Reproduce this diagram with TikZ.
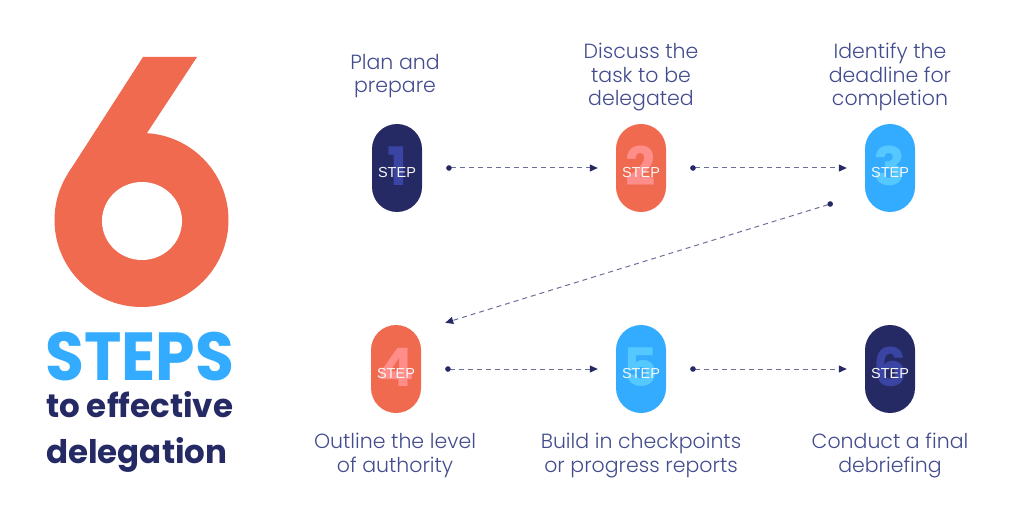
\documentclass[tikz,border=0pt]{standalone}
\usepackage{fontspec}
\setmainfont{Poppins}
\newfontfamily\lightfont{Poppins Light}
\newfontfamily\stepfont{Liberation Sans}
\usetikzlibrary{arrows.meta,calc}

\definecolor{navy}{HTML}{262A64}
\definecolor{navylt}{HTML}{3A44A2}
\definecolor{coral}{HTML}{F06A50}
\definecolor{corallt}{HTML}{FF8D8A}
\definecolor{sky}{HTML}{33ABFE}
\definecolor{skylt}{HTML}{55C8FF}
\definecolor{labelblue}{HTML}{434C8E}
\definecolor{dashgray}{HTML}{6D6F9B}

\tikzset{
  pill/.style={rectangle, rounded corners=25pt, minimum width=50pt,
    minimum height=88pt, inner sep=0pt, draw=none},
  % big step number behind the word STEP, both clipped to the pill
  pillcontent/.style 2 args={path picture={
      \node[text=#2, font=\bfseries\fontsize{53}{53}\selectfont, inner sep=0pt]
        at ([yshift=2pt]path picture bounding box.center) {#1};
      \node[text=white!94!gray, font=\stepfont\fontsize{14.5}{14.5}\selectfont, inner sep=0pt]
        at ([yshift=-4.5pt]path picture bounding box.center) {STEP};
    }},
  % anchor=base sits on the last line of these two- and three-line texts
  steplabel/.style={anchor=base, align=center, text=labelblue, inner sep=0pt,
    font=\lightfont\fontsize{20.5}{23.5}\selectfont},
  flow/.style={draw=dashgray, line width=1pt, dash pattern=on 5pt off 4pt,
    {Circle[length=5.5pt, color=navy]}-{Triangle[length=8pt, width=7pt, color=navy]}},
  title/.style={anchor=base west, inner sep=0pt},
}

\begin{document}
\begin{tikzpicture}[x=1pt, y=-1pt]
  \useasboundingbox (0,0) rectangle (1024,529);

  % the large numeral 6
  \fill[coral] (141.5,220) circle [radius=87pt];
  \fill[coral] (143,57) -- (197,57) -- (145,136) -- (141.5,220) -- (68.4,172.9) -- cycle;
  \fill[white] (142,221) ellipse [x radius=40pt, y radius=39pt];

  % title
  \node[title, text=sky, xscale=0.93, transform shape,
        font=\bfseries\fontsize{68}{68}\selectfont] (t1) at (45,380) {STEPS};
  \node[title, text=navy,
        font=\bfseries\fontsize{32.5}{32.5}\selectfont] (t2) at (46,417) {to effective};
  \node[title, text=navy,
        font=\bfseries\fontsize{32.5}{32.5}\selectfont] (t3) at (46,463) {delegation};

  % step pills
  \node[pill, fill=navy,  pillcontent={1}{navylt}]  (s1) at (397,168) {};
  \node[pill, fill=coral, pillcontent={2}{corallt}] (s2) at (641,168) {};
  \node[pill, fill=sky,   pillcontent={3}{skylt}]   (s3) at (890,168) {};
  \node[pill, fill=coral, pillcontent={4}{corallt}] (s4) at (396,369) {};
  \node[pill, fill=sky,   pillcontent={5}{skylt}]   (s5) at (641,369) {};
  \node[pill, fill=navy,  pillcontent={6}{navylt}]  (s6) at (890,369) {};

  % step descriptions
  \node[steplabel] (l1) at (395,93) {Plan and\\prepare};
  \node[steplabel] (l2) at (641,106) {Discuss the\\task to be\\delegated};
  \node[steplabel] (l3) at (890,106) {Identify the\\deadline for\\completion};
  \node[steplabel] (l4) at (395,472) {Outline the level\\of authority};
  \node[steplabel] (l5) at (641,472) {Build in checkpoints\\or progress reports};
  \node[steplabel] (l6) at (890,472) {Conduct a final\\debriefing};

  % connectors
  \draw[flow, shorten <=24pt, shorten >=18pt] (s1.east) -- (s2.west);
  \draw[flow, shorten <=24pt, shorten >=18pt] (s2.east) -- (s3.west);
  \coordinate (d3) at ($(s3.south west)+(-32,-9)$);
  \coordinate (d4) at ($(s4.north east)+(24,-2)$);
  \draw[flow] (d3) -- (d4);
  \draw[flow, shorten <=24pt, shorten >=18pt] (s4.east) -- (s5.west);
  \draw[flow, shorten <=24pt, shorten >=18pt] (s5.east) -- (s6.west);
\end{tikzpicture}
\end{document}
